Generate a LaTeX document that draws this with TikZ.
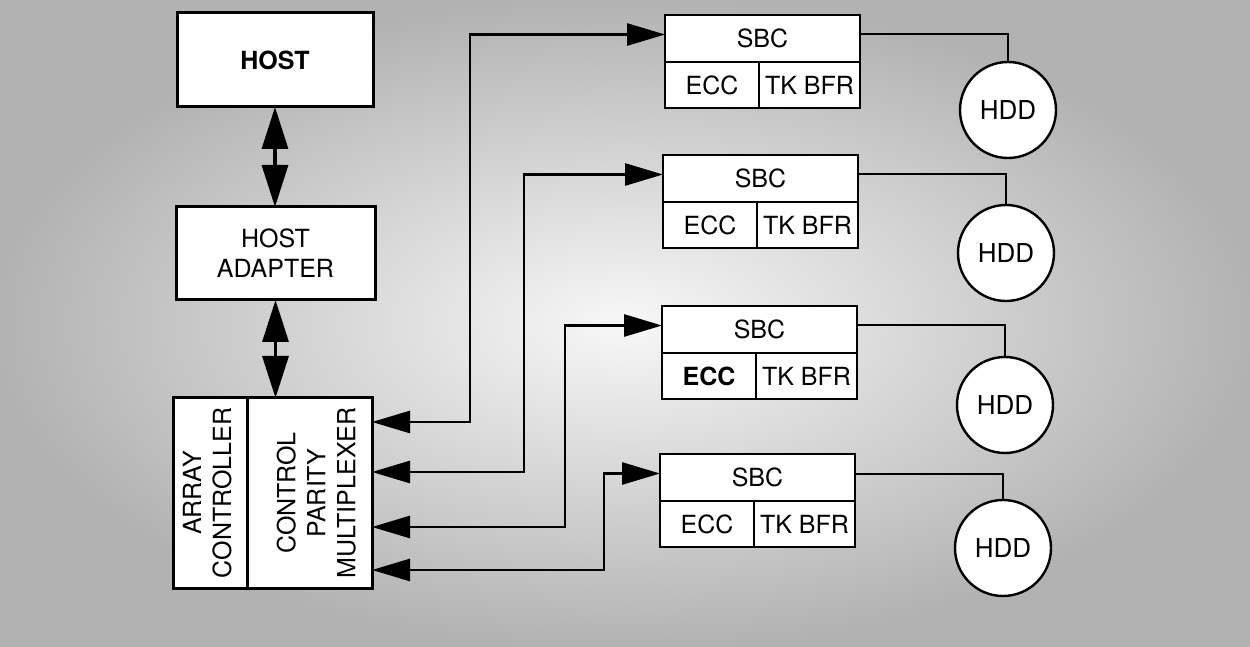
\documentclass[tikz,border=0pt]{standalone}
\usepackage{fontspec}
\setmainfont{TeX Gyre Heros}
\usepackage{graphicx}
\usetikzlibrary{positioning,arrows.meta}
\tikzstyle{unit} = [rectangle, draw=black, line width=1.5pt, fill=white, inner sep=0pt, outer sep=0pt, align=center, font=\fontsize{12.5}{15}\selectfont]
\tikzstyle{cell} = [rectangle, draw=black, line width=1.3pt, fill=white, inner sep=0pt, outer sep=0pt, font=\fontsize{12.5}{14}\selectfont]
\tikzstyle{disk} = [circle, draw=black, line width=1.2pt, fill=white, minimum size=48pt, inner sep=0pt, font=\fontsize{13}{15}\selectfont]
\tikzstyle{bus} = [line width=1.6pt, {Triangle[length=21pt,width=13pt]}-{Triangle[length=21pt,width=13pt]}]
\tikzstyle{link} = [line width=1.4pt, {Triangle[length=19pt,width=11pt]}-{Triangle[length=19pt,width=11pt]}]
\tikzstyle{wire} = [line width=1pt]

\begin{document}
\begin{tikzpicture}[x=0.5pt,y=-0.5pt]
\useasboundingbox (0,0) rectangle (1250,647);
\shade[inner color=black!3, outer color=black!30] (0,0) rectangle (1250,647);

\node (host) [unit, minimum width=98pt, minimum height=47pt, font=\fontsize{12.5}{15}\selectfont\bfseries] at (275,60) {HOST};
\node (adapter) [unit, minimum width=99.5pt, minimum height=46.5pt] at (275.5,253.5) {HOST\\ADAPTER};
\node (arrctl) [unit, minimum width=37pt, minimum height=95pt, anchor=north west] at (173,398) {\rotatebox{90}{\begin{tabular}{@{}c@{}}ARRAY\\CONTROLLER\end{tabular}}};
\node (mux) [unit, minimum width=62.5pt, minimum height=95pt, right=0pt of arrctl] {\hspace*{10pt}\rotatebox{90}{\begin{tabular}{@{}c@{}}CONTROL\\PARITY\\MULTIPLEXER\end{tabular}}};
\draw [bus] (host.south) -- (host.south |- adapter.north);
\draw [bus] (adapter.south) -- (adapter.south |- mux.north);

\foreach \i/\x/\y/\f in {1/665/15/\mdseries, 2/663/155/\mdseries, 3/662/306/\bfseries, 4/660/454/\mdseries} {
  \node (sbc\i) [cell, minimum width=97.5pt, minimum height=23.5pt, anchor=north west] at (\x,\y) {SBC};
  \node (ecc\i) [cell, minimum width=47pt, minimum height=23pt, below right=0pt and 0pt of sbc\i.south west, font=\fontsize{12.5}{14}\selectfont\f] {ECC};
  \node (tkb\i) [cell, minimum width=50.5pt, minimum height=23pt, right=0pt of ecc\i] {TK BFR};
}

\foreach \i/\x/\y in {1/1008/110, 2/1006/253, 3/1005/405, 4/1003/548} {
  \node (hdd\i) [disk] at (\x,\y) {HDD};
  \draw [wire] ([yshift=2pt]sbc\i.east) -| (hdd\i.north);
}

\foreach \i/\d/\l in {1/12/98, 2/37/152, 3/64.5/193, 4/86/232}
  \draw [link] ([yshift=-\d pt]mux.north east) -- +(\l,0) |- ([yshift=2pt]sbc\i.west);

\end{tikzpicture}
\end{document}
